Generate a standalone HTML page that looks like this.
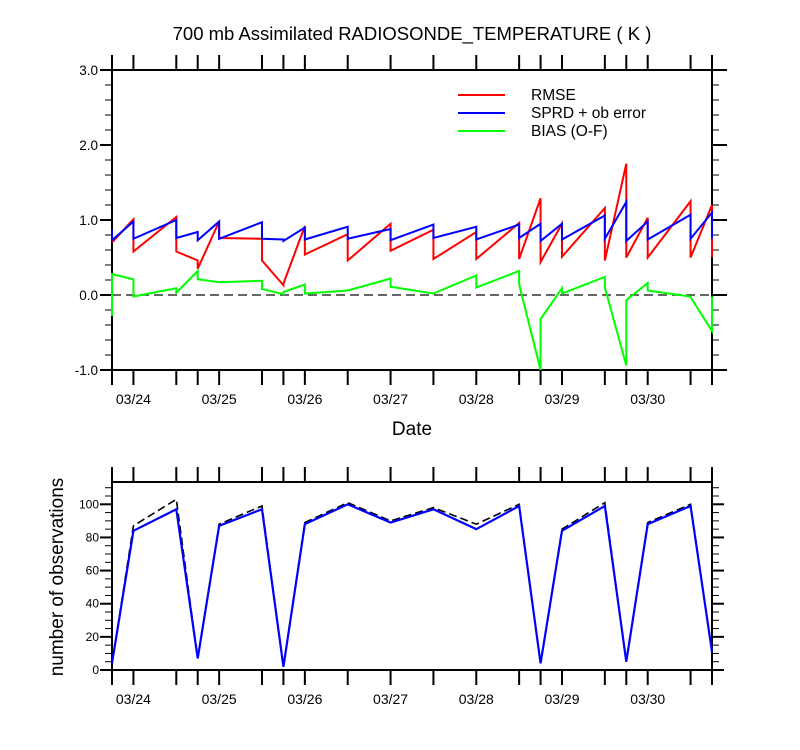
<!DOCTYPE html>
<html><head><meta charset="utf-8"><style>
body{margin:0;background:#fff;}
svg{display:block;font-family:"Liberation Sans",sans-serif;}
</style></head><body>
<svg id="c" width="800" height="750"></svg>
<script>
const times=[-0.25,0,0.5,0.75,1,1.5,1.75,2,2.5,3,3.5,4,4.5,4.75,5,5.5,5.75,6,6.5,6.75];
const dateLabels=["03/24","03/25","03/26","03/27","03/28","03/29","03/30"];
const rmseA=[0.70,1.01,1.04,0.46,0.98,0.75,0.13,0.92,0.81,0.95,0.87,0.84,0.96,1.29,0.95,1.16,1.75,1.03,1.25,1.20];
const rmseB=[0.70,0.58,0.58,0.35,0.76,0.46,0.15,0.54,0.46,0.59,0.48,0.48,0.48,0.44,0.51,0.46,0.50,0.50,0.50,0.50];
const sprdA=[0.87,0.98,1.00,0.84,0.98,0.97,0.74,0.90,0.91,0.88,0.94,0.91,0.94,0.95,0.95,1.06,1.24,0.98,1.07,1.10];
const sprdB=[0.73,0.75,0.76,0.73,0.75,0.75,0.72,0.74,0.75,0.73,0.76,0.74,0.76,0.72,0.74,0.75,0.72,0.74,0.75,0.75];
const biasA=[-0.28,0.21,0.09,0.32,0.17,0.19,0.01,0.14,0.06,0.22,0.02,0.26,0.32,-1.0,0.09,0.24,-0.94,0.16,-0.02,-0.48];
const biasB=[0.28,-0.02,0.03,0.21,0.17,0.08,0.04,0.02,0.06,0.11,0.02,0.10,0.14,-0.32,0.02,0.10,-0.07,0.06,-0.03,-0.02];
const obsUsed=[4,84,97,7,87,97,2,88,100,89,97,85,99,4,84,99,5,88,99,11];
const obsTotal=[4,87,103,7,88,99,2,89,101,90,98,88,100,4,85,101,5,89,100,11];
const topTicks=[-1,0,1,2,3];
const botTicks=[0,20,40,60,80,100];

const svg=document.getElementById('c');
const NS='http://www.w3.org/2000/svg';
function el(tag,attrs,parent){const e=document.createElementNS(NS,tag);for(const k in attrs)e.setAttribute(k,attrs[k]);(parent||svg).appendChild(e);return e;}
const X0=112,X1=712;
const xs=t=>X0+(t+0.25)*(X1-X0)/7;
const yT=v=>295-v*75;
const yB=v=>670-v*1.657;

let t=el('text',{x:412,y:40,'text-anchor':'middle','font-size':18.5});t.textContent='700 mb Assimilated RADIOSONDE_TEMPERATURE ( K )';

t=el('text',{x:412,y:435,'text-anchor':'middle','font-size':19});t.textContent='Date';

t=el('text',{x:0,y:0,'text-anchor':'middle','font-size':19,transform:'translate(63,577) rotate(-90)'});t.textContent='number of observations';


function panel(yTop,yBot,name){
  const g=el('g',{});
  
  
  el('rect',{x:X0,y:yTop,width:X1-X0,height:yBot-yTop,fill:'none',stroke:'#000','stroke-width':2},g);
  times.forEach(tt=>{const x=xs(tt);
    el('line',{x1:x,x2:x,y1:yTop-15,y2:yTop,stroke:'#000','stroke-width':2},g);
    el('line',{x1:x,x2:x,y1:yBot,y2:yBot+15,stroke:'#000','stroke-width':2},g);});
  dateLabels.forEach((d,i)=>{const tx=el('text',{x:xs(i),y:yBot+34,'text-anchor':'middle','font-size':14},g);tx.textContent=d;
    });
  return g;
}
const gt=panel(70,370,'rmse-panel');
for(let v=-1;v<=3.001;v+=0.2){const y=yT(v);const maj=Math.abs(v-Math.round(v))<0.01;
  el('line',{x1:X0-(maj?12:7),x2:X0,y1:y,y2:y,stroke:'#000','stroke-width':maj?2:1},gt);
  el('line',{x1:X1,x2:X1+(maj?15:7),y1:y,y2:y,stroke:'#000','stroke-width':maj?2:1},gt);}
topTicks.forEach(v=>{const tx=el('text',{x:X0-14,y:yT(v)+5,'text-anchor':'end','font-size':13.5},gt);tx.textContent=v.toFixed(1);
  });
el('line',{x1:X0,x2:X1,y1:yT(0),y2:yT(0),stroke:'#333','stroke-width':1.6,'stroke-dasharray':'9,5'},gt);
function saw(A,B,col,name){let d='';times.forEach((tt,i)=>{d+=(i?'L':'M')+xs(tt)+','+yT(A[i])+'L'+xs(tt)+','+yT(B[i]);});
  const p=el('path',{d:d,fill:'none',stroke:col,'stroke-width':2},gt);}
saw(rmseA,rmseB,'#f00','rmse-line');
saw(sprdA,sprdB,'#00f','sprd-line');
saw(biasA,biasB,'#0f0','bias-line');
[['RMSE','#f00'],['SPRD + ob error','#00f'],['BIAS (O-F)','#0f0']].forEach((l,i)=>{
  const g=el('g',{});
  const y=95+i*18;el('line',{x1:458,x2:505,y1:y,y2:y,stroke:l[1],'stroke-width':2},g);
  const tx=el('text',{x:531,y:y+5,'font-size':15.5},g);tx.textContent=l[0];});

const gb=panel(482,670,'obs-panel');
for(let v=0;v<=112;v+=5){const y=yB(v);const maj=v%20===0;
  el('line',{x1:X0-(maj?12:7),x2:X0,y1:y,y2:y,stroke:'#000','stroke-width':maj?2:1},gb);
  el('line',{x1:X1,x2:X1+(maj?12:7),y1:y,y2:y,stroke:'#000','stroke-width':maj?2:1},gb);}
botTicks.forEach(v=>{const tx=el('text',{x:X0-13,y:yB(v)+4,'text-anchor':'end','font-size':12},gb);tx.textContent=v;
  });
function ln(arr,attrs,name){const d=times.map((tt,i)=>(i?'L':'M')+xs(tt)+','+yB(arr[i])).join('');
  const p=el('path',Object.assign({d:d,fill:'none'},attrs),gb);}
ln(obsTotal,{stroke:'#000','stroke-width':1.6,'stroke-dasharray':'8,4'},'total-obs-line');
ln(obsUsed,{stroke:'#00f','stroke-width':2.2},'used-obs-line');
</script>
</body></html>
